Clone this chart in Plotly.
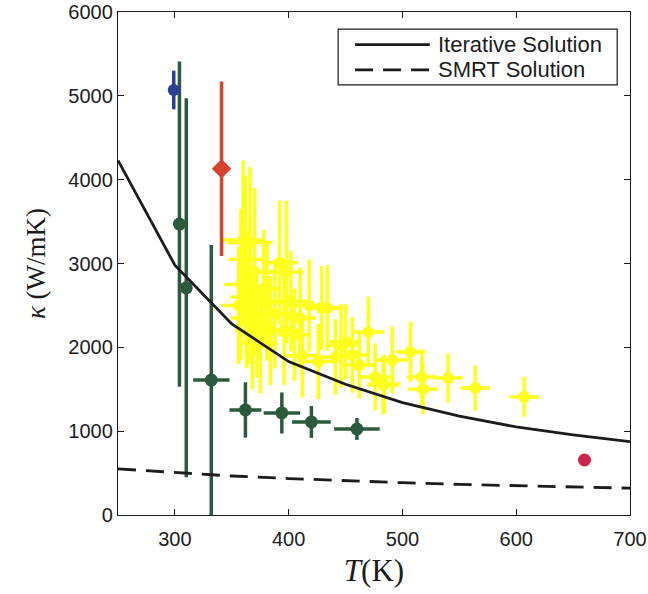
import plotly.graph_objects as go

# Model curves: thermal conductivity vs temperature
T_model = [250, 300, 350, 400, 450, 500, 550, 600, 650, 700]
k_iterative = [4230, 2980, 2280, 1830, 1560, 1340, 1180, 1050, 955, 875]
k_smrt = [550, 505, 465, 435, 408, 385, 365, 348, 333, 320]

# Measured data set A (yellow)
T_a = [356, 358, 360, 362, 363, 365, 366, 368, 370, 372, 375, 378, 381, 384, 388,
       392, 396, 398, 402, 405, 410, 412, 418, 426, 429, 434, 441, 446, 450, 456,
       462, 470, 476, 483, 484, 491, 507, 517, 518, 540, 564, 607]
k_a = [2500, 2750, 3280, 3050, 2350, 2600, 3250, 2200, 2900, 2290, 2050, 2700, 2540, 2200, 2400,
       3010, 2200, 2900, 2550, 2150, 2350, 1900, 2500, 1830, 2470, 2470, 1885, 2020, 2064, 1910,
       1790, 2184, 1647, 1550, 1563, 1850, 1945, 1647, 1500, 1635, 1515, 1408]
dT_a = [15, 15, 18, 15, 14, 16, 20, 15, 15, 14, 15, 15, 15, 14, 15,
        16, 14, 15, 14, 14, 14, 14, 14, 14, 14, 14, 14, 14, 14, 14,
        14, 14, 14, 14, 14, 14, 13, 13, 13, 13, 13, 13]
dk_a = [700, 900, 950, 1000, 600, 800, 900, 700, 1000, 650, 600, 700, 700, 650, 650,
        740, 650, 850, 600, 550, 600, 500, 550, 450, 500, 510, 450, 500, 450, 450,
        400, 420, 400, 350, 350, 400, 360, 330, 300, 290, 270, 240]

# Measured data set B (green)
T_b = [304, 310, 332, 362, 394, 420, 460]
k_b = [3470, 2710, 1610, 1253, 1217, 1110, 1026]
dT_b = [3, 3, 16, 14, 16, 17, 20]
dk_b = [1940, 2260, 1610, 330, 245, 190, 130]

# Single measurements
T_c, k_c, dk_c = [299], [5070], [230]      # blue
T_d, k_d, dk_d = [341], [4130], [1040]     # red
T_e, k_e = [660], [656]                    # crimson

YELLOW = "#ffff1e"
GREEN = "#2b5a3c"
BLUE = "#2c3f92"
RED = "#d8412b"
CRIMSON = "#d0244c"
INK = "#1c1c1c"

fig = go.Figure()

fig.add_trace(go.Scatter(
    x=T_a, y=k_a, mode="markers",
    marker=dict(color=YELLOW, size=12),
    error_x=dict(type="data", array=dT_a, color=YELLOW, thickness=3.5, width=0),
    error_y=dict(type="data", array=dk_a, color=YELLOW, thickness=3.5, width=0),
    showlegend=False))

fig.add_trace(go.Scatter(
    x=T_b, y=k_b, mode="markers",
    marker=dict(color=GREEN, size=13),
    error_x=dict(type="data", array=dT_b, color=GREEN, thickness=3.5, width=0),
    error_y=dict(type="data", array=dk_b, color=GREEN, thickness=3.5, width=0),
    showlegend=False))

fig.add_trace(go.Scatter(
    x=T_c, y=k_c, mode="markers",
    marker=dict(color=BLUE, size=12),
    error_y=dict(type="data", array=dk_c, color=BLUE, thickness=3.5, width=0),
    showlegend=False))

fig.add_trace(go.Scatter(
    x=T_d, y=k_d, mode="markers",
    marker=dict(color=RED, size=15, symbol="diamond"),
    error_y=dict(type="data", array=dk_d, color=RED, thickness=3.5, width=0),
    showlegend=False))

fig.add_trace(go.Scatter(
    x=T_e, y=k_e, mode="markers",
    marker=dict(color=CRIMSON, size=13),
    showlegend=False))

fig.add_trace(go.Scatter(
    x=T_model, y=k_iterative, mode="lines",
    line=dict(color=INK, width=2.8), showlegend=False))

fig.add_trace(go.Scatter(
    x=T_model, y=k_smrt, mode="lines",
    line=dict(color=INK, width=2.8, dash="18px,10px"), showlegend=False))

# Legend box drawn in paper coordinates
fig.add_shape(type="rect", xref="paper", yref="paper",
              x0=0.430, x1=0.975, y0=0.855, y1=0.966,
              line=dict(color=INK, width=1.2), fillcolor="white", layer="above")
fig.add_shape(type="line", xref="paper", yref="paper",
              x0=0.463, x1=0.609, y0=0.935, y1=0.935,
              line=dict(color=INK, width=2.8), layer="above")
fig.add_shape(type="line", xref="paper", yref="paper",
              x0=0.463, x1=0.609, y0=0.885, y1=0.885,
              line=dict(color=INK, width=2.8, dash="18px,10px"), layer="above")
for ypos, label in [(0.935, "Iterative Solution"), (0.885, "SMRT Solution")]:
    fig.add_annotation(xref="paper", yref="paper", x=0.621, y=ypos,
                       text=label, showarrow=False, xanchor="left", yanchor="middle",
                       font=dict(family="Liberation Sans, Arial", size=22, color=INK))

axis_common = dict(
    showline=True, linecolor=INK, linewidth=1.4, mirror="ticks",
    ticks="inside", ticklen=6, tickcolor=INK, tickwidth=1.4,
    showgrid=False, zeroline=False, automargin=False,
    tickfont=dict(family="Liberation Sans, Arial", size=20, color=INK),
)

fig.update_layout(
    width=648, height=594,
    margin=dict(l=118, r=18, t=12, b=79),
    paper_bgcolor="white", plot_bgcolor="white",
    xaxis=dict(range=[250, 700], tickvals=[300, 400, 500, 600, 700],
               ticklabelstandoff=6,
               title=dict(text="<i>T</i>(K)", standoff=10,
                          font=dict(family="Liberation Serif, DejaVu Serif", size=31, color=INK)),
               **axis_common),
    yaxis=dict(range=[0, 6000], tickvals=[0, 1000, 2000, 3000, 4000, 5000, 6000],
               title=dict(text="<i>κ</i> (W/mK)", standoff=14,
                          font=dict(family="Liberation Serif, DejaVu Serif", size=27, color=INK)),
               **axis_common),
)

fig.write_html("out.html")
